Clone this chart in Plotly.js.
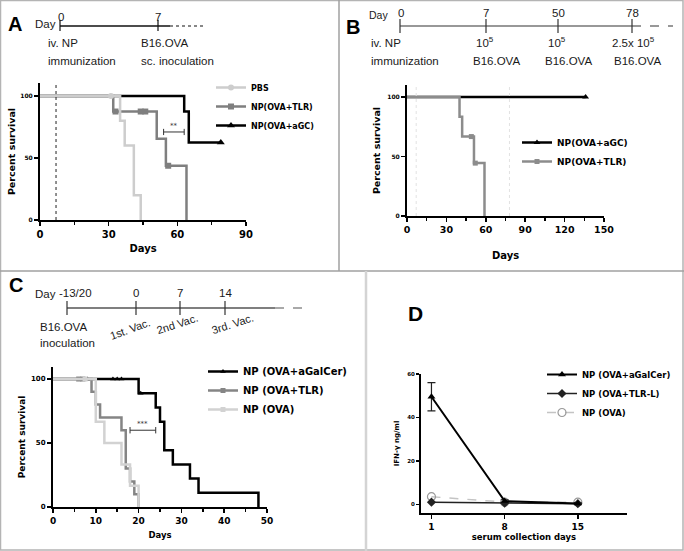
<!DOCTYPE html>
<html>
<head>
<meta charset="utf-8">
<script src="https://cdn.plot.ly/plotly-3.0.1.min.js"></script>
<style>html,body{margin:0;padding:0;background:#fff;}</style>
</head>
<body>
<div id="contenedorGrafica" style="width:684px;height:551px"></div>
<script>
const W = 684, H = 551;
const px = v => v / W;
const py = v => 1 - v / H;

const NEGRO = '#000000';
const GRIS = '#7f7f7f';
const GRIS_CLARO = '#cdcdcd';

// Panel A - survival, tumour at day 7
const diasA_agc = [0, 63, 65, 79];
const survA_agc = [100, 87.5, 62.5, 62.5];
const censA_agc_dias = [79];
const censA_agc_surv = [62.5];

const diasA_tlr = [0, 32, 51, 55, 64];
const survA_tlr = [100, 87.5, 65.6, 43.75, 0];
const censA_tlr_dias = [33, 44, 46, 56];
const censA_tlr_surv = [87.5, 87.5, 87.5, 43.75];

const diasA_pbs = [0, 35, 37, 41, 44];
const survA_pbs = [100, 80, 60, 20, 0];
const censA_pbs_dias = [31];
const censA_pbs_surv = [100];

const sigA = [54, 63, 71];

// Panel B - rechallenge
const diasB_agc = [0, 136];
const survB_agc = [100, 100];
const censB_agc_dias = [136];
const censB_agc_surv = [100];

const diasB_tlr = [0, 40, 42, 51, 59];
const survB_tlr = [100, 83.3, 66.7, 44.4, 0];
const censB_tlr_dias = [49, 52];
const censB_tlr_surv = [66.7, 44.4];

// Panel C - therapeutic vaccination
const diasC_agal = [0, 20, 24, 25, 26, 28, 32, 34, 48];
const survC_agal = [100, 88.9, 77.8, 66.7, 44.4, 33.3, 22.2, 11.1, 0];
const censC_agal_dias = [8, 14, 15, 16, 20.5];
const censC_agal_surv = [100, 100, 100, 100, 88.9];

const diasC_tlr = [0, 9, 10, 11, 16, 17, 18, 19, 20];
const survC_tlr = [100, 90, 80, 70, 60, 30, 20, 10, 0];
const censC_tlr_dias = [6, 7];
const censC_tlr_surv = [100, 100];

const diasC_ova = [0, 10, 12, 16, 18, 20];
const survC_ova = [100, 66.7, 50, 33.3, 16.7, 0];
const censC_ova_dias = [7.5];
const censC_ova_surv = [100];

const sigC = [18, 24, 60];

// Panel D - serum IFN-g
const diasD = [1, 8, 15];
const ifnD_agal = [49.5, 1.5, 0.4];
const errD_agal = [6.5, 0.6, 0.3];
const ifnD_tlr = [1.0, 0.5, 0.3];
const ifnD_ova = [3.5, 1.0, 1.0];

const FUENTE = 'DejaVu Sans';
const FUENTE_TEXTO = 'Liberation Sans';

function escalon(x, y, color, ejeX, ejeY){
    return {x: x, y: y, mode: 'lines', line: {color: color, width: 2.5, shape: 'hv'},
        xaxis: ejeX, yaxis: ejeY, showlegend: false, hoverinfo: 'skip'};
}

function conHuecos(arr){
    return arr.flatMap((v, i) => i ? [null, v] : [v]);
}

function censura(x, y, nombre, color, simbolo, tam, ejeX, ejeY, leyenda){
    return {x: conHuecos(x), y: conHuecos(y), name: nombre, mode: 'lines+markers',
        line: {color: color, width: 2.5}, marker: {symbol: simbolo, size: tam, color: color},
        connectgaps: false, xaxis: ejeX, yaxis: ejeY, legend: leyenda};
}

let datos = [
    escalon(diasA_agc, survA_agc, NEGRO, 'x', 'y'),
    censura(censA_agc_dias, censA_agc_surv, 'NP(OVA+aGC)', NEGRO, 'triangle-up', 7, 'x', 'y', 'legend'),
    escalon(diasA_tlr, survA_tlr, GRIS, 'x', 'y'),
    censura(censA_tlr_dias, censA_tlr_surv, 'NP(OVA+TLR)', GRIS, 'square', 6, 'x', 'y', 'legend'),
    escalon(diasA_pbs, survA_pbs, GRIS_CLARO, 'x', 'y'),
    censura(censA_pbs_dias, censA_pbs_surv, 'PBS', GRIS_CLARO, 'circle', 6, 'x', 'y', 'legend'),

    escalon(diasB_agc, survB_agc, NEGRO, 'x2', 'y2'),
    censura(censB_agc_dias, censB_agc_surv, 'NP(OVA+aGC)', NEGRO, 'triangle-up', 6, 'x2', 'y2', 'legend2'),
    escalon(diasB_tlr, survB_tlr, '#8c8c8c', 'x2', 'y2'),
    censura(censB_tlr_dias, censB_tlr_surv, 'NP(OVA+TLR)', '#8c8c8c', 'square', 5, 'x2', 'y2', 'legend2'),

    escalon(diasC_agal, survC_agal, NEGRO, 'x3', 'y3'),
    censura(censC_agal_dias, censC_agal_surv, 'NP (OVA+aGalCer)', NEGRO, 'triangle-up', 5, 'x3', 'y3', 'legend3'),
    escalon(diasC_tlr, survC_tlr, '#858585', 'x3', 'y3'),
    censura(censC_tlr_dias, censC_tlr_surv, 'NP (OVA+TLR)', '#858585', 'square', 5, 'x3', 'y3', 'legend3'),
    escalon(diasC_ova, survC_ova, '#d2d2d2', 'x3', 'y3'),
    censura(censC_ova_dias, censC_ova_surv, 'NP (OVA)', '#d2d2d2', 'square', 5, 'x3', 'y3', 'legend3'),

    {x: diasD, y: ifnD_ova, name: 'NP (OVA)', mode: 'lines+markers', xaxis: 'x4', yaxis: 'y4', legend: 'legend4',
        line: {color: '#c4c4c4', width: 1.5, dash: 'dash'},
        marker: {symbol: 'circle-open', size: 8, color: '#9a9a9a', line: {width: 1.2}}},
    {x: diasD, y: ifnD_tlr, name: 'NP (OVA+TLR-L)', mode: 'lines+markers', xaxis: 'x4', yaxis: 'y4', legend: 'legend4',
        line: {color: '#222', width: 1.5}, marker: {symbol: 'diamond', size: 7, color: '#222'}},
    {x: diasD, y: ifnD_agal, name: 'NP (OVA+aGalCer)', mode: 'lines+markers', xaxis: 'x4', yaxis: 'y4', legend: 'legend4',
        line: {color: NEGRO, width: 2}, marker: {symbol: 'triangle-up', size: 7, color: NEGRO},
        error_y: {type: 'data', array: errD_agal, color: '#222', thickness: 1.2, width: 4}}
];

function eje(dominio, rango, extra){
    return Object.assign({
        domain: dominio, range: rango, showline: true, linecolor: NEGRO, linewidth: 2,
        ticks: 'outside', ticklen: 4, tickwidth: 1.5, tickcolor: NEGRO,
        showgrid: false, zeroline: false, fixedrange: true,
        tickfont: {family: FUENTE, size: 9, color: NEGRO, weight: 'bold'}
    }, extra);
}

function titulo(texto, tam, separacion){
    return {text: texto, standoff: separacion, font: {family: FUENTE, size: tam, color: NEGRO, weight: 'bold'}};
}

function menor(paso){
    return {dtick: paso, ticks: 'outside', ticklen: 3, tickwidth: 1.5, tickcolor: NEGRO, showgrid: false};
}

function texto(t, x, y, tam, ancla, extra){
    return Object.assign({text: t, x: px(x), y: py(y), xref: 'paper', yref: 'paper', showarrow: false,
        xanchor: ancla || 'left', yanchor: 'middle',
        font: {family: FUENTE_TEXTO, size: tam, color: '#1a1a1a'}}, extra);
}

function linea(x0, y0, x1, y1, color, ancho, guion){
    return {type: 'line', xref: 'paper', yref: 'paper', x0: px(x0), y0: py(y0), x1: px(x1), y1: py(y1),
        line: {color: color, width: ancho, dash: guion || 'solid'}};
}

function barraSig(sig, ejeX, ejeY, alto){
    return [
        {type: 'line', xref: ejeX, yref: ejeY, x0: sig[0], x1: sig[1], y0: sig[2], y1: sig[2], line: {color: '#333', width: 1}},
        {type: 'line', xref: ejeX, yref: ejeY, x0: sig[0], x1: sig[0], y0: sig[2] - alto, y1: sig[2] + alto, line: {color: '#333', width: 1}},
        {type: 'line', xref: ejeX, yref: ejeY, x0: sig[1], x1: sig[1], y0: sig[2] - alto, y1: sig[2] + alto, line: {color: '#333', width: 1}}
    ];
}

const letra = {family: FUENTE_TEXTO, size: 20, color: NEGRO, weight: 'bold'};

let anotaciones = [
    // panel letters
    texto('A', 15, 24, 21, 'center', {font: letra}),
    texto('B', 353, 27, 19, 'center', {font: letra}),
    texto('C', 16, 285, 20, 'center', {font: letra}),
    texto('D', 415, 313, 21, 'center', {font: Object.assign({}, letra, {size: 21})}),

    // timeline A
    texto('Day', 33, 24, 11.5),
    texto('0', 61, 17, 11.5, 'center'),
    texto('7', 158, 17, 11.5, 'center'),
    texto('iv. NP', 46, 43, 11.5),
    texto('immunization', 46, 61, 11.5),
    texto('B16.OVA', 139, 43, 11.5),
    texto('sc. inoculation', 139, 61, 11.5),

    // timeline B
    texto('Day', 367, 15, 10.5),
    texto('0', 401, 13, 11.5, 'center'),
    texto('7', 486, 13, 11.5, 'center'),
    texto('50', 558, 13, 11.5, 'center'),
    texto('78', 632, 13, 11.5, 'center'),
    texto('iv. NP', 369, 43, 11.5),
    texto('immunization', 369, 61, 11.5),
    texto('10<sup>5</sup>', 474, 42, 11.5),
    texto('B16.OVA', 471, 61, 11.5),
    texto('10<sup>5</sup>', 546, 42, 11.5),
    texto('B16.OVA', 543, 61, 11.5),
    texto('2.5x 10<sup>5</sup>', 610, 42, 11.5),
    texto('B16.OVA', 612, 61, 11.5),

    // timeline C
    texto('Day', 33, 294, 11.5),
    texto('-13/20', 75, 293, 11.5, 'center'),
    texto('0', 136, 293, 11.5, 'center'),
    texto('7', 180, 293, 11.5, 'center'),
    texto('14', 225, 293, 11.5, 'center'),
    texto('B16.OVA', 38, 327, 11.5),
    texto('inoculation', 38, 343, 11.5),
    texto('1st. Vac.', 130, 329, 11, 'center', {textangle: -20}),
    texto('2nd Vac.', 177, 324, 11, 'center', {textangle: -18}),
    texto('3rd. Vac.', 232, 324, 11, 'center', {textangle: -18}),

    // significance
    {text: '**', x: (sigA[0] + sigA[1]) / 2, y: sigA[2], xref: 'x', yref: 'y', showarrow: false, yanchor: 'bottom',
        font: {family: FUENTE, size: 7, color: '#333'}},
    {text: '***', x: (sigC[0] + sigC[1]) / 2, y: sigC[2], xref: 'x3', yref: 'y3', showarrow: false, yanchor: 'bottom',
        font: {family: FUENTE, size: 7, color: '#333'}}
];

let formas = [
    // panel frames
    {type: 'rect', xref: 'paper', yref: 'paper', x0: px(0.5), y0: py(550), x1: px(683), y1: py(0.5), line: {color: '#b4b4b4', width: 1.5}},
    linea(0, 271, 684, 271, '#a0a0a0', 1.5),
    linea(339, 0, 339, 271, '#a0a0a0', 1.5),
    linea(366, 271, 366, 551, '#d4d4d4', 2.5),

    // timeline A
    linea(60, 26, 170, 26, '#111', 1.5),
    linea(170, 26, 205, 26, '#111', 1.2, 'dot'),
    linea(60, 20, 60, 31, '#111', 1.2),
    linea(158, 20, 158, 31, '#111', 1.2),

    // timeline B
    linea(400, 26, 632, 26, '#333', 1.2),
    linea(632, 26, 673, 26, '#333', 1.2, 'dash'),
    linea(400, 19, 400, 33, '#333', 1.2),
    linea(486, 19, 486, 33, '#333', 1.2),
    linea(558, 19, 558, 33, '#333', 1.2),
    linea(632, 19, 632, 33, '#333', 1.2),

    // timeline C
    linea(67, 308, 275, 308, '#555', 1.5),
    linea(275, 308, 308, 308, '#555', 1.2, 'dash'),
    linea(67, 301, 67, 315, '#333', 1.2),
    linea(136, 301, 136, 315, '#333', 1.2),
    linea(180, 301, 180, 315, '#333', 1.2),
    linea(225, 301, 225, 315, '#333', 1.2),

    // tumour day markers
    {type: 'line', xref: 'x', yref: 'y domain', x0: 7, x1: 7, y0: 0, y1: 1, line: {color: '#222', width: 1, dash: 'dot'}},
    {type: 'line', xref: 'x2', yref: 'y2 domain', x0: 7, x1: 7, y0: 0, y1: 1, line: {color: '#e2e2e2', width: 1, dash: 'dot'}},
    {type: 'line', xref: 'x2', yref: 'y2 domain', x0: 78, x1: 78, y0: 0, y1: 1, line: {color: '#e2e2e2', width: 1, dash: 'dot'}}
].concat(barraSig(sigA, 'x', 'y', 2.5), barraSig(sigC, 'x3', 'y3', 2.5));

function leyenda(x, y, tam, orden){
    return {x: px(x), y: py(y), xanchor: 'left', yanchor: 'top', bgcolor: 'rgba(0,0,0,0)',
        traceorder: orden, itemwidth: 30,
        font: {family: FUENTE, size: tam, color: NEGRO, weight: 'bold'}};
}

const layout = {
    width: W, height: H,
    margin: {l: 0, r: 0, t: 0, b: 0},
    paper_bgcolor: '#ffffff', plot_bgcolor: 'rgba(0,0,0,0)',
    showlegend: true,
    legend: leyenda(211, 73, 8, 'reversed'),
    legend2: leyenda(517, 128, 9, 'normal'),
    legend3: leyenda(203, 357, 10, 'normal'),
    legend4: leyenda(542, 360, 8.5, 'reversed'),

    xaxis: eje([px(40), px(246)], [0, 90], {anchor: 'y', dtick: 30, minor: menor(15),
        tickfont: {family: FUENTE, size: 10, color: NEGRO, weight: 'bold'}, title: titulo('Days', 10, 6)}),
    yaxis: eje([py(220), py(83)], [0, 110.5], {anchor: 'x', tickvals: [0, 50, 100],
        tickfont: {family: FUENTE, size: 6, color: NEGRO, weight: 'bold'}, title: titulo('Percent survival', 9.5, 3)}),

    xaxis2: eje([px(407), px(604)], [0, 150], {anchor: 'y2', dtick: 30, minor: menor(15),
        tickfont: {family: FUENTE, size: 9.5, color: NEGRO, weight: 'bold'}, title: titulo('Days', 10, 18)}),
    yaxis2: eje([py(216), py(85)], [0, 110], {anchor: 'x2', tickvals: [0, 50, 100],
        tickfont: {family: FUENTE, size: 6, color: NEGRO, weight: 'bold'}, title: titulo('Percent survival', 9.5, 5)}),

    xaxis3: eje([px(53), px(267)], [0, 50], {anchor: 'y3', dtick: 10, minor: menor(5),
        tickfont: {family: FUENTE, size: 9, color: NEGRO, weight: 'bold'}, title: titulo('Days', 8.5, 7)}),
    yaxis3: eje([py(507), py(367)], [0, 109.4], {anchor: 'x3', tickvals: [0, 50, 100],
        tickfont: {family: FUENTE, size: 7, color: NEGRO, weight: 'bold'}, title: titulo('Percent survival', 9, 4)}),

    xaxis4: eje([px(421), px(627)], [0, 19.7], {anchor: 'y4', tickvals: diasD,
        tickfont: {family: FUENTE, size: 9, color: NEGRO, weight: 'bold'}, title: titulo('serum collection days', 8.5, 3)}),
    yaxis4: eje([py(513), py(374)], [-4, 60], {anchor: 'x4', tickvals: [0, 20, 40, 60], ticklen: 3,
        tickfont: {family: FUENTE, size: 5.5, color: NEGRO, weight: 'bold'}, title: titulo('IFN-γ ng/ml', 7, 7)}),

    annotations: anotaciones,
    shapes: formas
};

Plotly.newPlot(document.getElementById('contenedorGrafica'), datos, layout, {displayModeBar: false, staticPlot: true});
</script>
</body>
</html>
